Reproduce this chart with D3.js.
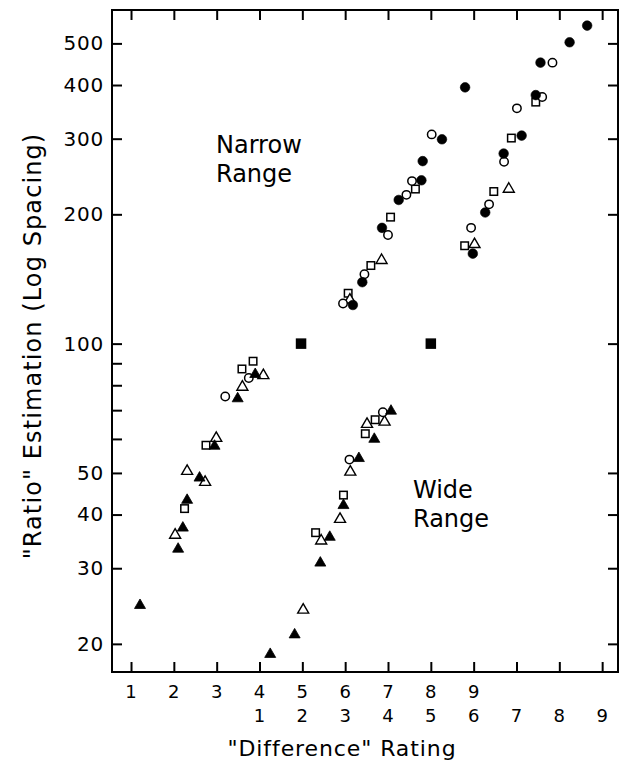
<!DOCTYPE html>
<html><head><meta charset="utf-8">
<script src="https://cdn.jsdelivr.net/npm/d3@7"></script>
<style>body{margin:0;background:#fff}</style>
</head><body>
<svg id="c" width="623" height="765"></svg>
<script>
// ---- tick labels ----
const narrowTickLabels = [1,2,3,4,5,6,7,8,9];
const wideTickLabels = [1,2,3,4,5,6,7,8,9];
const wideOffset = 3;            // wide-range rating 1 sits under narrow-range rating 4
const tickPositions = [1,2,3,4,5,6,7,8,9,10,11,12];
const yTickLabels = [20,30,40,50,100,200,300,400,500];
const yMinorTicks = [60,70,80,90];

// ---- Narrow range data: [rating, ratio estimate] ----
const narrowFilledTriangles = [[1.21,24.7],[2.10,33.4],[2.21,37.4],[2.31,43.4],[2.60,48.9],[2.95,58.0],[3.49,74.8],[3.90,85.2]];
const narrowOpenTriangles   = [[2.03,36.0],[2.31,50.7],[2.73,47.8],[2.99,60.5],[3.60,79.6],[4.09,84.7],[6.11,127],[6.85,157]];
const narrowOpenSquares     = [[2.25,41.3],[2.75,58.0],[3.59,87.3],[3.85,91.0],[6.07,131],[6.60,152],[7.06,197],[7.64,229]];
const narrowOpenCircles     = [[3.20,75.3],[3.75,83.2],[5.95,124],[6.45,145],[7.00,179],[7.43,222],[7.56,239],[8.02,307]];
const narrowFilledCircles   = [[6.18,123],[6.40,139],[6.86,186],[7.25,216],[7.78,240],[7.81,266],[8.26,299],[8.80,395]];
const narrowStandard        = [[4.97,100]];

// ---- Wide range data: [rating, ratio estimate] ----
const wideFilledTriangles = [[1.25,19.0],[1.82,21.1],[2.42,31.0],[2.64,35.6],[2.96,42.2],[3.32,54.3],[3.68,60.2],[4.07,70.0]];
const wideOpenTriangles   = [[2.02,24.1],[2.44,34.9],[2.88,39.2],[3.12,50.5],[3.51,65.2],[3.92,66.0],[6.02,171],[6.82,230]];
const wideOpenSquares     = [[2.31,36.3],[2.96,44.4],[3.47,61.7],[3.70,66.5],[5.79,169],[6.47,226],[6.88,301],[7.45,365]];
const wideOpenCircles     = [[3.10,53.7],[3.88,69.2],[5.94,186],[6.36,211],[6.71,265],[7.01,353],[7.60,375],[7.84,451]];
const wideFilledCircles   = [[5.98,162],[6.27,202],[6.70,277],[7.12,305],[7.45,379],[7.56,451],[8.24,503],[8.65,550]];
const wideStandard        = [[5.00,100]];

const svg = d3.select("#c");
const L = 112, R = 618, T = 10, B = 672;
const x = d3.scaleLinear().domain([0.556, 12.37]).range([L, R]);
const y = d3.scaleLog().domain([17.2, 598]).range([B, T]);
const font = "'DejaVu Sans', Verdana, sans-serif";

// frame
svg.append("rect").attr("x", L).attr("y", T).attr("width", R - L).attr("height", B - T)
  .attr("fill", "none").attr("stroke", "#000").attr("stroke-width", 2);

// axes with inward ticks
const tl = 10;
const gLeft = svg.append("g").attr("transform", `translate(${L},0)`)
  .call(d3.axisLeft(y).tickValues(yTickLabels.concat(yMinorTicks)).tickSize(-tl).tickPadding(8)
    .tickFormat(d => yTickLabels.includes(d) ? d : ""));
gLeft.select(".domain").remove();
gLeft.selectAll("line").attr("stroke", "#000").attr("stroke-width", 2);
gLeft.selectAll("text").attr("font-family", font).attr("font-size", 20).attr("letter-spacing", 0.8)
  .attr("fill", "#000").attr("x", -8);

const gRight = svg.append("g").attr("transform", `translate(${R},0)`)
  .call(d3.axisRight(y).tickValues(yTickLabels).tickSize(-tl).tickFormat(""));
gRight.select(".domain").remove();
gRight.selectAll("line").attr("stroke", "#000").attr("stroke-width", 2);

const gTop = svg.append("g").attr("transform", `translate(0,${T})`)
  .call(d3.axisTop(x).tickValues(tickPositions).tickSize(-tl).tickFormat(""));
gTop.select(".domain").remove();
gTop.selectAll("line").attr("stroke", "#000").attr("stroke-width", 2);

const gBot = svg.append("g").attr("transform", `translate(0,${B})`)
  .call(d3.axisBottom(x).tickValues(tickPositions).tickSize(-tl).tickFormat(""));
gBot.select(".domain").remove();
gBot.selectAll("line").attr("stroke", "#000").attr("stroke-width", 2);

// two rows of x tick labels
svg.append("g").selectAll("text").data(narrowTickLabels).join("text")
  .attr("x", d => x(d)).attr("y", 698).attr("text-anchor", "middle")
  .attr("font-family", font).attr("font-size", 18).text(d => d);
svg.append("g").selectAll("text").data(wideTickLabels).join("text")
  .attr("x", d => x(d + wideOffset)).attr("y", 722).attr("text-anchor", "middle")
  .attr("font-family", font).attr("font-size", 18).text(d => d);

// axis titles
svg.append("text").attr("x", 342).attr("y", 756).attr("text-anchor", "middle")
  .attr("font-family", font).attr("font-size", 22).attr("letter-spacing", 0.9)
  .text("\u0022Difference\u0022 Rating");
svg.append("text").attr("transform", "translate(41,346) rotate(-90)").attr("text-anchor", "middle")
  .attr("font-family", font).attr("font-size", 24).attr("letter-spacing", 1.1)
  .text("\u0022Ratio\u0022 Estimation (Log Spacing)");

// in-plot labels
function label(lines, x0, y0) {
  lines.forEach((t, i) => svg.append("text").attr("x", x0).attr("y", y0 + i * 29)
    .attr("font-family", font).attr("font-size", 24).text(t));
}
label(["Narrow", "Range"], 216, 153);
label(["Wide", "Range"], 413, 498);

// markers
const g = svg.append("g");
function tri(sel, filled) {
  sel.attr("d", d => { const cx = d.px, cy = d.py; return `M${cx},${cy-5.5}L${cx+5.5},${cy+4}L${cx-5.5},${cy+4}Z`; })
    .attr("fill", filled ? "#000" : "#fff").attr("stroke", "#000").attr("stroke-width", filled ? 0.8 : 1.4);
}
function draw(data, offset, kind) {
  const pts = data.map(d => ({ px: x(d[0] + offset), py: y(d[1]) }));
  if (kind === "fc" || kind === "oc") {
    g.selectAll(null).data(pts).join("circle").attr("cx", d => d.px).attr("cy", d => d.py)
      .attr("r", kind === "fc" ? 4.8 : 4.2)
      .attr("fill", kind === "fc" ? "#000" : "#fff").attr("stroke", "#000").attr("stroke-width", kind === "fc" ? 0.6 : 1.5);
  } else if (kind === "os" || kind === "fs") {
    const s = kind === "fs" ? 9 : 7.5;
    g.selectAll(null).data(pts).join("rect").attr("x", d => d.px - s/2).attr("y", d => d.py - s/2)
      .attr("width", s).attr("height", s)
      .attr("fill", kind === "fs" ? "#000" : "#fff").attr("stroke", "#000").attr("stroke-width", 1.5);
  } else {
    g.selectAll(null).data(pts).join("path").call(tri, kind === "ft");
  }
}
draw(narrowOpenSquares, 0, "os");
draw(narrowOpenTriangles, 0, "ot");
draw(narrowOpenCircles, 0, "oc");
draw(narrowFilledTriangles, 0, "ft");
draw(narrowFilledCircles, 0, "fc");
draw(narrowStandard, 0, "fs");
draw(wideOpenSquares, wideOffset, "os");
draw(wideOpenTriangles, wideOffset, "ot");
draw(wideOpenCircles, wideOffset, "oc");
draw(wideFilledTriangles, wideOffset, "ft");
draw(wideFilledCircles, wideOffset, "fc");
draw(wideStandard, wideOffset, "fs");
</script>
</body></html>
